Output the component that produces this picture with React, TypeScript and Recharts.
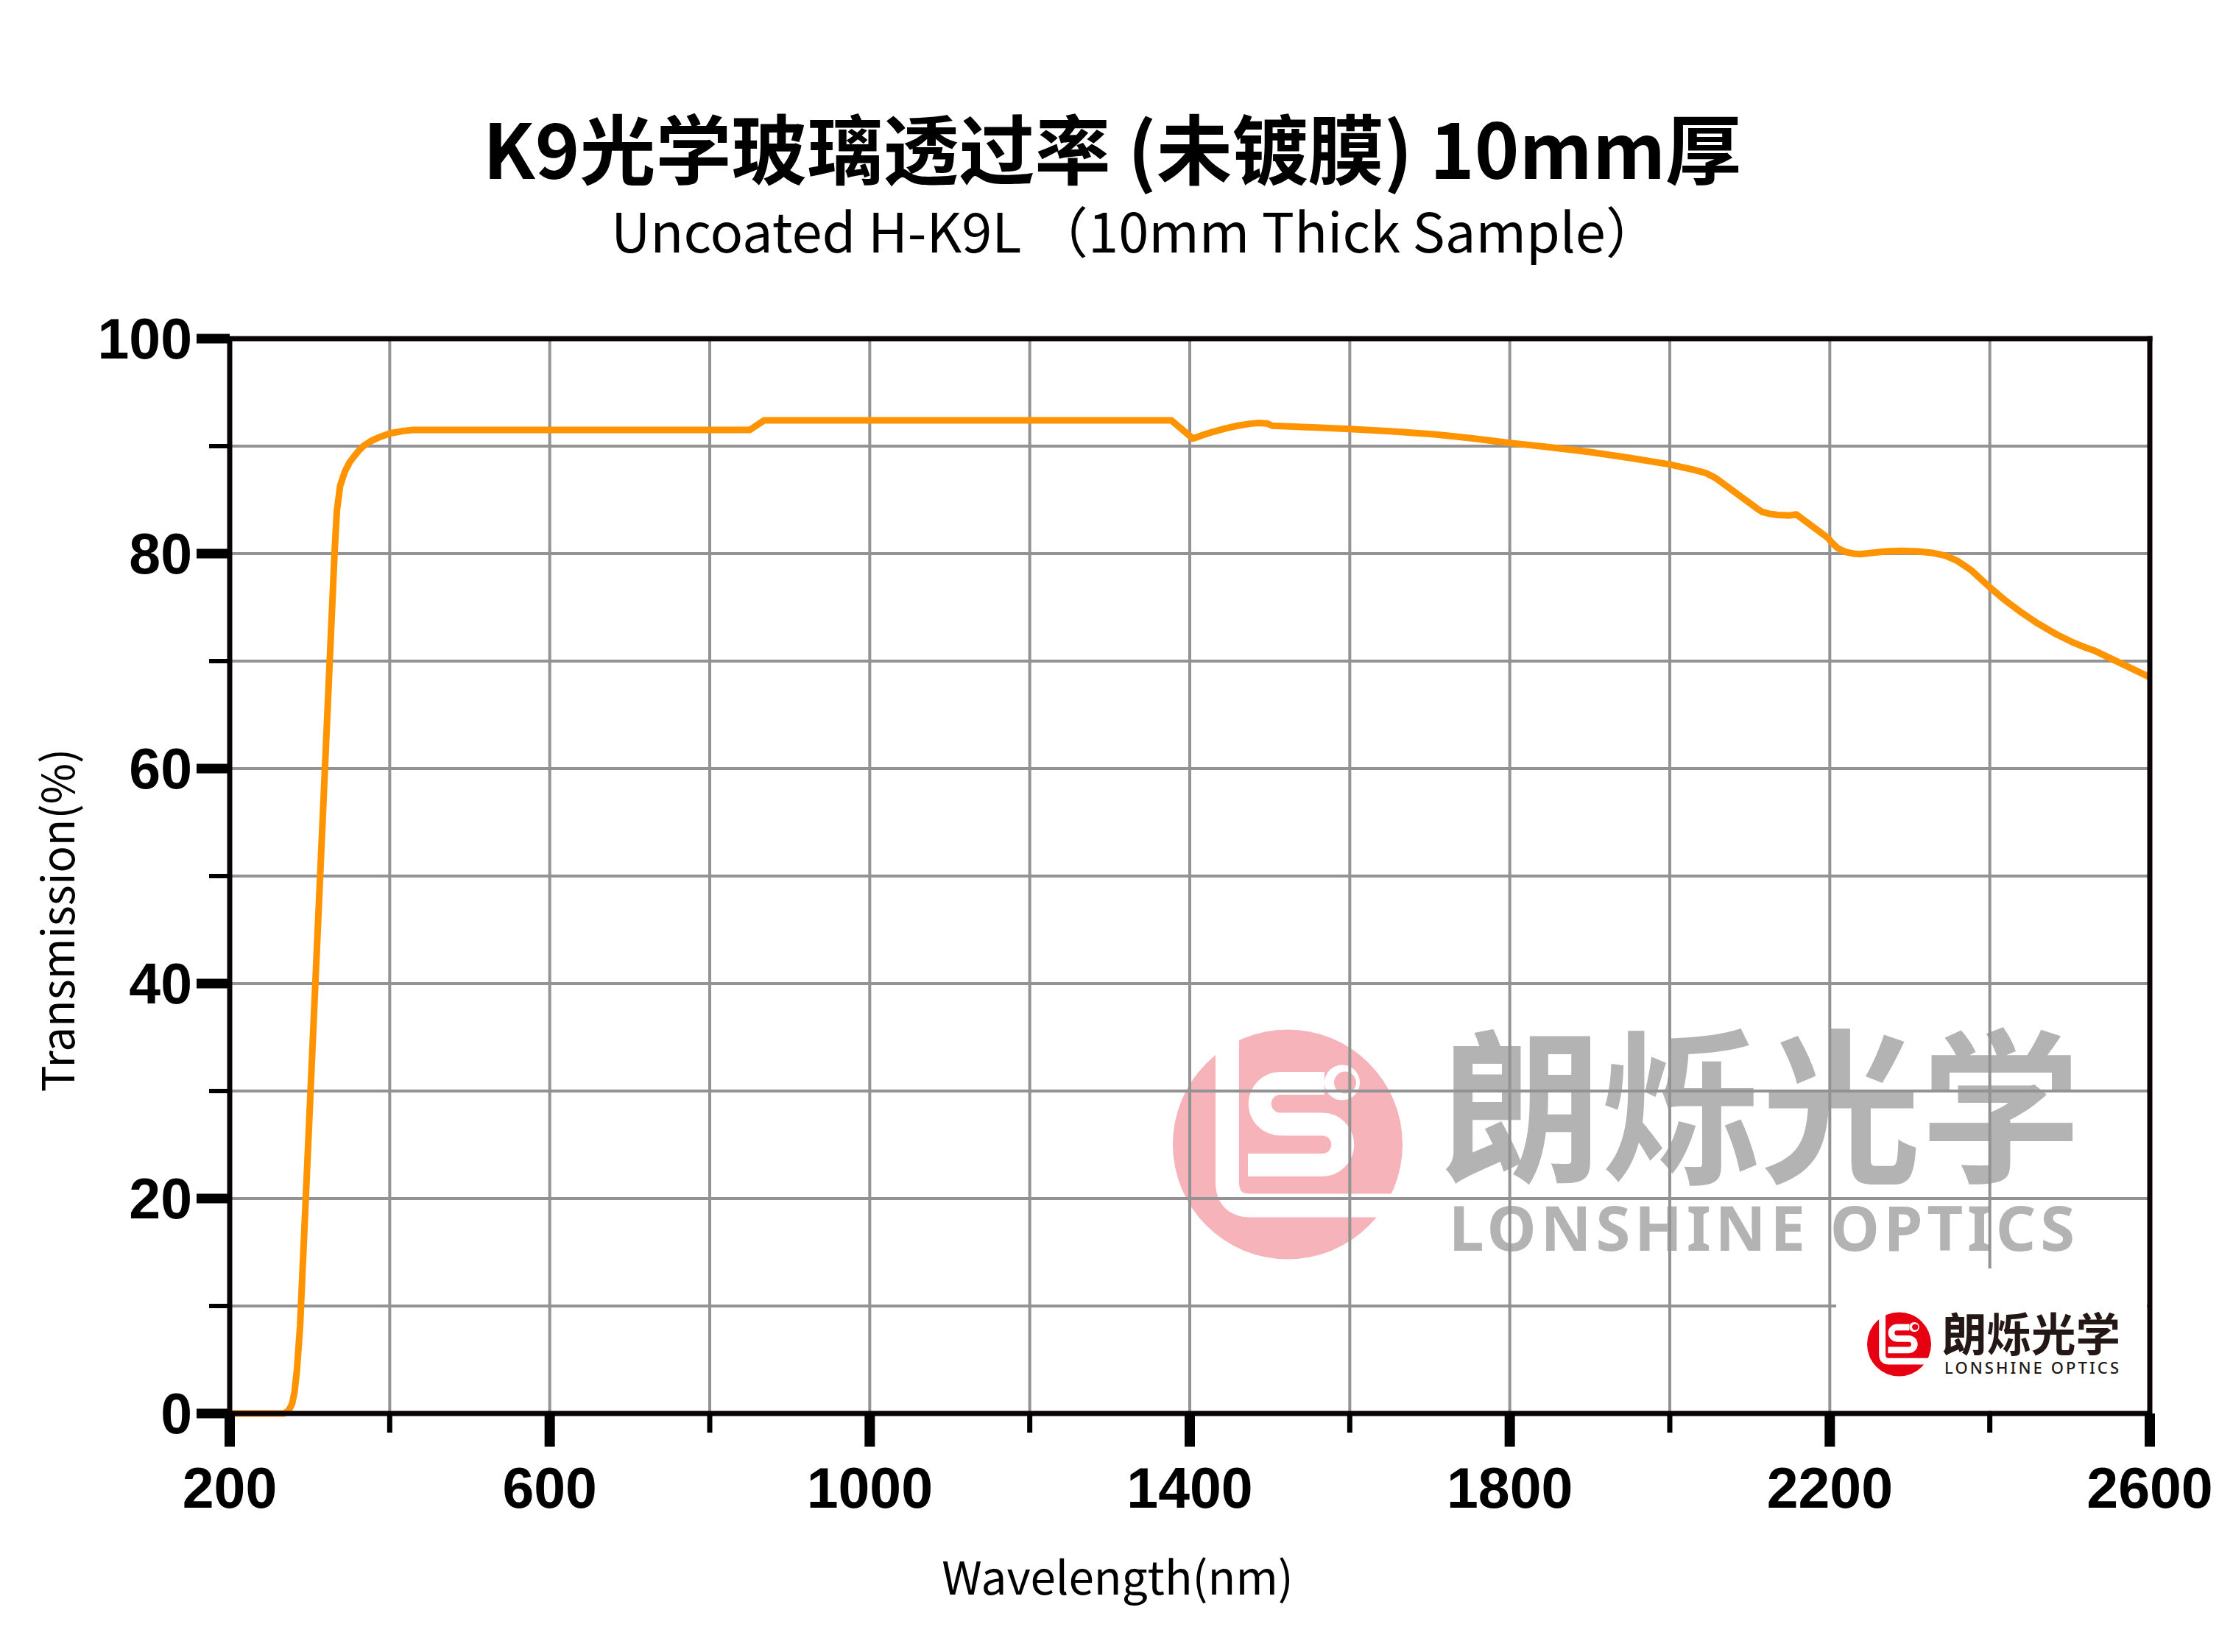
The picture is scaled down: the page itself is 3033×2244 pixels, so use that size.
import { CartesianGrid, Line, LineChart, ReferenceLine, XAxis, YAxis } from "recharts";

// (nm, % transmission)
const wavelength = [
  200, 260, 268, 274, 278, 281, 284, 288, 331, 334, 338, 344, 350, 355, 361, 367, 376, 386, 401, 416, 428,
  850, 868, 1377, 1404, 1415, 1430, 1445, 1460, 1475, 1485, 1497, 1503, 1600, 1650, 1706, 1750, 1800, 1850,
  1900, 1950, 2000, 2030, 2045, 2058, 2109, 2115, 2125, 2135, 2150, 2158, 2197, 2203, 2210, 2220, 2230, 2238,
  2250, 2270, 2290, 2310, 2330, 2345, 2360, 2376, 2401, 2420, 2440, 2460, 2483, 2505, 2520, 2530, 2600,
];
const transmission = [
  0, 0, 0, 0.3, 0.9, 2.0, 4.0, 8.2, 80.0, 84.0, 86.3, 87.65, 88.5, 89.0, 89.55, 90.0, 90.45, 90.8, 91.2, 91.4, 91.5,
  91.5, 92.4, 92.4, 90.7, 91.0, 91.35, 91.65, 91.9, 92.08, 92.15, 92.1, 91.9, 91.6, 91.38, 91.1, 90.75, 90.3, 89.9,
  89.45, 88.9, 88.3, 87.8, 87.5, 87.0, 84.2, 83.9, 83.7, 83.6, 83.55, 83.65, 81.5, 81.0, 80.5, 80.15, 80.0, 79.95,
  80.05, 80.2, 80.25, 80.2, 80.05, 79.8, 79.3, 78.5, 76.8, 75.6, 74.5, 73.5, 72.5, 71.7, 71.25, 71.0, 68.5,
];
const xTicks = [200, 400, 600, 800, 1000, 1200, 1400, 1600, 1800, 2000, 2200, 2400, 2600];
const xLabels = [200, 600, 1000, 1400, 1800, 2200, 2600];
const yTicks = [0, 10, 20, 30, 40, 50, 60, 70, 80, 90, 100];
const yLabels = [0, 20, 40, 60, 80, 100];

const W = 3033;
const H = 2244;
const FRAME = "#0a0305";
const GRID = "#939393";
const ORANGE = "#ff9300";
const TICK_FONT = "'Liberation Sans', Arial, sans-serif";
const CJK = "'Noto Sans CJK SC', 'Noto Sans', sans-serif";

const rows = wavelength.map((nm, i) => ({ nm, t: transmission[i] }));

function XTick({ x, y, payload }: any) {
  const major = xLabels.includes(payload.value);
  return <g>
    <line x1={x} x2={x} y1={y} y2={y + (major ? 45 : 26)} stroke="#000" strokeWidth={major ? 14 : 7} />
    {major && <text x={x} y={y + 128} textAnchor="middle" fontFamily={TICK_FONT} fontWeight={700} fontSize={77} fill="#000">{payload.value}</text>}
  </g>;
}

function YTick({ x, y, payload }: any) {
  const major = yLabels.includes(payload.value);
  return <g>
    <line x1={x - (major ? 45 : 28)} x2={x} y1={y} y2={y} stroke="#000" strokeWidth={major ? 13 : 6} />
    {major && <text x={x - 51} y={y + 27} textAnchor="end" fontFamily={TICK_FONT} fontWeight={700} fontSize={77} fill="#000">{payload.value}</text>}
  </g>;
}

function Mark({ cx, cy, r, fill }: { cx: number; cy: number; r: number; fill: string }) {
  const s = r / 156;
  return <g transform={`translate(${cx} ${cy}) scale(${s})`}>
    <circle r={156} fill={fill} />
    <path d="M -82 -170 V 51 Q -82 83 -50 83 H 170" fill="none" stroke="#fff" strokeWidth={32} />
    <path d="M 50 -83 H -10 A 27.75 27.75 0 0 0 -10 -27.5 H 47 A 27.75 27.75 0 0 1 47 28 H -54" fill="none" stroke="#fff" strokeWidth={31} />
    <circle cx={74} cy={-84} r={24} fill="#fff" />
    <circle cx={78} cy={-84} r={15} fill={fill} />
  </g>;
}

export default function App() {
  return <div style={{ position: "absolute", left: 0, top: 0, width: W, height: H, background: "#fff", overflow: "hidden" }}>
    {/* watermark sits under the grid */}
    <svg width={W} height={H} style={{ position: "absolute", left: 0, top: 0 }}>
      <Mark cx={1749} cy={1554.5} r={156} fill="#f6b3b9" />
      <text x={1958} y={1589} fontFamily={CJK} fontWeight={700} fontSize={225} fill="#b3b3b3" textLength={868} lengthAdjust="spacingAndGlyphs">朗烁光学</text>
      <text x={1968} y={1699} fontFamily="'Noto Sans', sans-serif" fontWeight={700} fontSize={85} fill="#b3b3b3" textLength={850} lengthAdjust="spacing">LONSHINE OPTICS</text>
    </svg>
    <LineChart width={W} height={H} data={rows} margin={{ top: 460, right: 113, bottom: 224, left: 212 }}>
      <CartesianGrid stroke={GRID} strokeWidth={4} />
      <XAxis dataKey="nm" type="number" domain={[200, 2600]} ticks={xTicks} interval={0} height={100} tickSize={0} tickMargin={0} tickLine={false} axisLine={{ stroke: FRAME, strokeWidth: 7 }} tick={XTick} />
      <YAxis type="number" domain={[0, 100]} ticks={yTicks} interval={0} width={100} tickSize={0} tickMargin={0} tickLine={false} axisLine={{ stroke: FRAME, strokeWidth: 7 }} tick={YTick} />
      <Line type="linear" dataKey="t" stroke={ORANGE} strokeWidth={9} strokeLinejoin="round" dot={false} activeDot={false} isAnimationActive={false} />
      <ReferenceLine y={100} stroke={FRAME} strokeWidth={7} strokeLinecap="square" />
      <ReferenceLine x={2600} stroke={FRAME} strokeWidth={7} strokeLinecap="square" />
    </LineChart>
    <svg width={W} height={H} style={{ position: "absolute", left: 0, top: 0, pointerEvents: "none" }}>
      <text x={656} y={243} fontFamily={CJK} fontWeight={700} fontSize={103} fill="#000">K9光学玻璃透过率 (未镀膜) 10mm厚</text>
      <text x={830} y={343} fontFamily={CJK} fontWeight={400} fontSize={74} fill="#000">Uncoated H-K9L （10mm Thick Sample）</text>
      <text transform="translate(101 1250) rotate(-90)" textAnchor="middle" fontFamily={CJK} fontSize={60} fill="#000">Transmission(%)</text>
      <text x={1518} y={2166} textAnchor="middle" fontFamily={CJK} fontSize={62} fill="#000">Wavelength(nm)</text>
      {/* small logo box covers the grid in the corner */}
      <rect x={2494} y={1723} width={422} height={193} fill="#fff" />
      <Mark cx={2579.5} cy={1826} r={43.5} fill="#e60012" />
      <text x={2638} y={1836} fontFamily={CJK} fontWeight={700} fontSize={62} fill="#231815" textLength={242} lengthAdjust="spacingAndGlyphs">朗烁光学</text>
      <text x={2641} y={1866} fontFamily="'Noto Sans', sans-serif" fontWeight={500} fontSize={22} fill="#231815" textLength={237} lengthAdjust="spacing">LONSHINE OPTICS</text>
    </svg>
  </div>;
}
